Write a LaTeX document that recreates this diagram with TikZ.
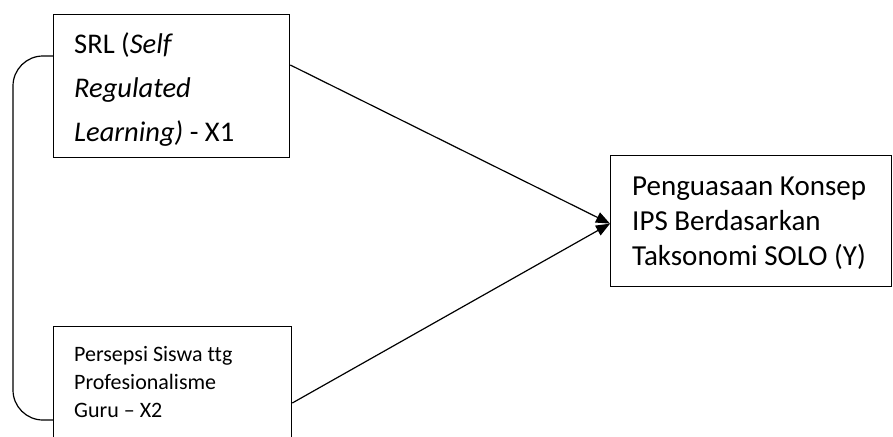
\documentclass[tikz,border=0pt]{standalone}
\usepackage{fontspec}
\setmainfont{Carlito}[Ligatures={TeX,NoCommon}]
\usetikzlibrary{arrows.meta}
\begin{document}
\begin{tikzpicture}[x=1pt,y=-1pt,
  box/.style={draw=black, line width=1.3pt, anchor=north west, inner sep=0pt},
  txt/.style={anchor=base west, inner sep=0pt, align=left},
  link/.style={line width=1.2pt, -{Triangle[length=14pt,width=11pt]}},
  brace/.style={line width=1.2pt, rounded corners=30pt}]
\useasboundingbox (0,0) rectangle (893,436);
\clip (0,0) rectangle (893,436);
\node[box, minimum width=236pt, minimum height=143pt] (x1) at (53,14) {};
\node[box, minimum width=238pt, minimum height=130pt] (x2) at (53,326) {};
\node[box, minimum width=281pt, minimum height=131pt] (y) at (610,155) {};
\node[txt, font=\fontsize{28.5}{44}\selectfont] (t1) at (74,141)
  {SRL (\textit{Self}\\\textit{Regulated}\\\textit{Learning)} - X1};
\node[txt, font=\fontsize{22}{27.6}\selectfont] (t2) at (74,417)
  {Persepsi Siswa ttg\\Profesionalisme\\Guru \textendash{} X2};
\node[txt, font=\fontsize{29}{35}\selectfont] (t3) at (632,265)
  {Penguasaan Konsep\\IPS Berdasarkan\\Taksonomi SOLO (Y)};
\coordinate (tip) at ([yshift=-2.5pt]y.west);
\coordinate (s1) at ([yshift=-51pt]x1.north east);
\coordinate (s2) at ([yshift=-77pt]x2.north east);
\draw[link] (s1) -- (tip);
\draw[link] (s2) -- (tip);
\coordinate (bx) at (13,0);
\coordinate (b1) at ([yshift=-42pt]x1.north west);
\coordinate (b2) at ([yshift=-94pt]x2.north west);
\draw[brace] (b1) -- (b1 -| bx) -- (b2 -| bx) -- (b2);
\end{tikzpicture}
\end{document}
